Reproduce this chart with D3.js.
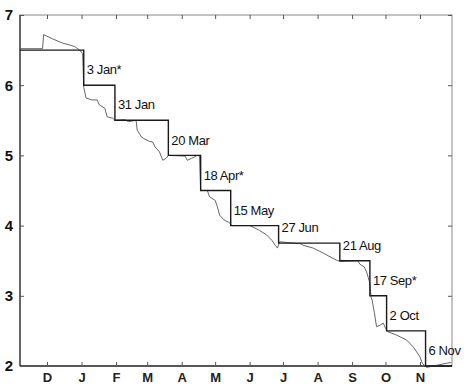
<!DOCTYPE html>
<html><head><meta charset="utf-8">
<script src="https://cdn.jsdelivr.net/npm/d3@7"></script>
<style>
html,body{margin:0;padding:0;background:#fff;}
svg{display:block;}
text{font-family:"Liberation Sans",Arial,sans-serif;}
</style></head>
<body><svg id="c" width="468" height="386"></svg>
<script>
// ---- data ----
const startRate = 6.5;
const cutDates = ["2001-01-03","2001-01-31","2001-03-20","2001-04-18","2001-05-15","2001-06-27","2001-08-21","2001-09-17","2001-10-02","2001-11-06"];
const cutLabels = ["3 Jan*","31 Jan","20 Mar","18 Apr*","15 May","27 Jun","21 Aug","17 Sep*","2 Oct","6 Nov"];
const targetLevels = [6.0,5.5,5.0,4.5,4.0,3.75,3.5,3.0,2.5,2.0];
const marketDates = ["2000-11-07","2000-11-27","2000-11-28","2000-12-06","2000-12-15","2000-12-22","2000-12-26","2000-12-31","2001-01-02","2001-01-03","2001-01-05","2001-01-10","2001-01-15","2001-01-17","2001-01-22","2001-01-24","2001-01-29","2001-01-31","2001-02-09","2001-02-12","2001-02-19","2001-02-20","2001-02-24","2001-02-27","2001-03-03","2001-03-06","2001-03-08","2001-03-12","2001-03-15","2001-03-18","2001-03-20","2001-04-04","2001-04-06","2001-04-10","2001-04-15","2001-04-17","2001-04-18","2001-04-24","2001-04-26","2001-05-01","2001-05-03","2001-05-05","2001-05-09","2001-05-14","2001-05-16","2001-06-01","2001-06-04","2001-06-10","2001-06-16","2001-06-21","2001-06-24","2001-06-26","2001-06-28","2001-07-17","2001-07-19","2001-07-28","2001-08-06","2001-08-14","2001-08-19","2001-08-22","2001-09-06","2001-09-08","2001-09-12","2001-09-14","2001-09-17","2001-09-18","2001-09-19","2001-09-21","2001-09-23","2001-09-26","2001-09-29","2001-10-01","2001-10-03","2001-10-11","2001-10-20","2001-10-26","2001-11-01","2001-11-03","2001-11-07","2001-11-16","2001-11-25","2001-11-29"];
const marketValues = [6.52,6.52,6.72,6.66,6.60,6.57,6.55,6.49,6.45,5.97,5.82,5.79,5.79,5.72,5.67,5.55,5.53,5.50,5.51,5.48,5.50,5.36,5.26,5.23,5.20,5.19,5.12,5.05,4.93,4.96,5.00,4.99,4.93,4.96,5.00,4.99,4.50,4.50,4.41,4.36,4.27,4.15,4.08,4.04,4.00,4.00,3.98,3.93,3.87,3.79,3.72,3.68,3.77,3.74,3.72,3.68,3.61,3.54,3.50,3.49,3.50,3.45,3.41,3.34,3.18,2.98,2.94,2.76,2.56,2.58,2.61,2.54,2.49,2.44,2.37,2.27,2.13,2.04,1.98,2.01,2.04,2.05];
const monthTicks = ["2000-12-01","2001-01-01","2001-02-01","2001-03-01","2001-04-01","2001-05-01","2001-06-01","2001-07-01","2001-08-01","2001-09-01","2001-10-01","2001-11-01"];
const monthLabels = ["D","J","F","M","A","M","J","J","A","S","O","N"];
const yTicks = [2,3,4,5,6,7];

// ---- chart ----
const P = d3.timeParse("%Y-%m-%d");
const svg = d3.select("#c");
const L = 20, R = 452, T = 15, B = 366;
const x = d3.scaleTime().domain([P(monthTicks[0]), P(monthTicks[11])]).range([47, 420]);
x.domain([x.invert(L), x.invert(R)]).range([L, R]);
const y = d3.scaleLinear().domain([2, 7]).range([B, T]);

// frame
svg.append("rect").attr("x", L).attr("y", T).attr("width", R - L).attr("height", B - T)
  .attr("fill", "none").attr("stroke", "#888").attr("stroke-width", 1);
svg.append("line").attr("x1", L).attr("x2", L).attr("y1", T).attr("y2", B).attr("stroke", "#333").attr("stroke-width", 1.3);
svg.append("line").attr("x1", L).attr("x2", R).attr("y1", B).attr("y2", B).attr("stroke", "#333").attr("stroke-width", 1.3);

// axes via d3 axis generators (ticks inward)
const tickDates = monthTicks.map(P);
const xb = d3.axisBottom(x).tickValues(tickDates).tickSize(-4).tickPadding(7)
  .tickFormat((d, i) => monthLabels[i]);
const gxb = svg.append("g").attr("transform", `translate(0,${B})`).call(xb);
const xt = d3.axisTop(x).tickValues(tickDates).tickSize(-4).tickFormat("");
const gxt = svg.append("g").attr("transform", `translate(0,${T})`).call(xt);
const yl = d3.axisLeft(y).tickValues(yTicks).tickSize(-4).tickPadding(7).tickFormat(d3.format("d"));
const gyl = svg.append("g").attr("transform", `translate(${L},0)`).call(yl);
const yr = d3.axisRight(y).tickValues(yTicks).tickSize(-4).tickFormat("");
const gyr = svg.append("g").attr("transform", `translate(${R},0)`).call(yr);
[gxb, gxt, gyl, gyr].forEach(g => {
  g.select(".domain").remove();
  g.selectAll(".tick line").attr("stroke", "#555");
});
gxb.selectAll("text").attr("font-size", 13).attr("font-weight", "bold").attr("fill", "#222")
  .style("font-family", "'Liberation Sans',Arial,sans-serif");
gyl.selectAll("text").attr("font-size", 15).attr("font-weight", "bold").attr("fill", "#111")
  .style("font-family", "'Liberation Sans',Arial,sans-serif");

// market (thin) line
const market = marketDates.map((d, i) => ({ date: P(d), v: marketValues[i] }));
svg.append("path").datum(market)
  .attr("fill", "none").attr("stroke", "#555").attr("stroke-width", 0.9)
  .attr("d", d3.line().x(d => x(d.date)).y(d => y(d.v)));

// target step line
const levels = [startRate].concat(targetLevels);
const stepPts = [{ date: x.domain()[0], v: startRate }];
cutDates.forEach((d, i) => stepPts.push({ date: P(d), v: targetLevels[i] }));
stepPts.push({ date: x.domain()[1], v: targetLevels[targetLevels.length - 1] });
svg.append("path").datum(stepPts)
  .attr("fill", "none").attr("stroke", "#1a1a1a").attr("stroke-width", 1.4)
  .attr("d", d3.line().curve(d3.curveStepAfter).x(d => x(d.date)).y(d => y(d.v)));

// labels
cutDates.forEach((d, i) => {
  const before = levels[i], after = levels[i + 1];
  const v = (before - after) >= 0.5 ? (before + after) / 2 - 0.03 : before - 0.03;
  svg.append("text").attr("x", x(P(d)) + 3).attr("y", y(v))
    .attr("dy", "0.35em").attr("font-size", 13).attr("letter-spacing", -0.4)
    .attr("fill", "#111").text(cutLabels[i]);
});
</script></body></html>
